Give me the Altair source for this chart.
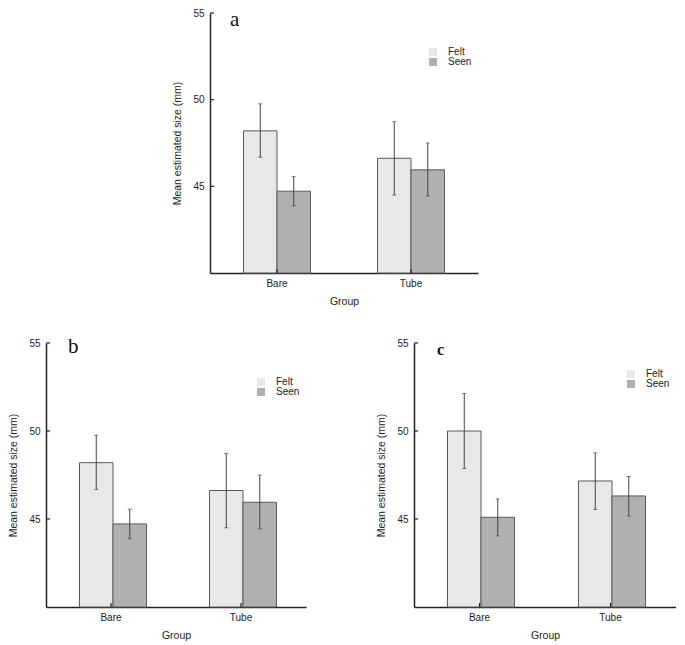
import altair as alt
import pandas as pd

groups = ["Bare", "Tube"]
conditions = ["Felt", "Seen"]

# order of values: Bare-Felt, Bare-Seen, Tube-Felt, Tube-Seen
mean_a = [48.2, 44.72, 46.62, 45.95]
low_a = [46.68, 43.88, 44.5, 44.44]
high_a = [49.76, 45.56, 48.73, 47.5]

mean_b = [48.2, 44.72, 46.62, 45.95]
low_b = [46.68, 43.88, 44.5, 44.44]
high_b = [49.76, 45.56, 48.73, 47.5]

mean_c = [50.0, 45.1, 47.16, 46.31]
low_c = [47.87, 44.04, 45.54, 45.17]
high_c = [52.13, 46.14, 48.76, 47.42]

y_ticks = [45, 50, 55]
y_domain = [40, 55]
fill_colors = ["#e8e8e8", "#b0b0b0"]
y_title = "Mean estimated size (mm)"


def panel(label, means, lows, highs, w, h, legend_y, label_size, label_weight, label_x, label_y):
    df = pd.DataFrame({
        "Group": [g for g in groups for _ in conditions],
        "Condition": [c for _ in groups for c in conditions],
        "Mean": means, "Low": lows, "High": highs,
    })
    x = alt.X("Group:N", sort=groups, title="Group",
              scale=alt.Scale(paddingInner=0, paddingOuter=0))
    xo = alt.XOffset("Condition:N", sort=conditions,
                     scale=alt.Scale(paddingInner=0, paddingOuter=1))
    yscale = alt.Scale(domain=y_domain, nice=False, zero=False)
    base = alt.Chart(df)
    bars = base.mark_bar(stroke="#5a5a5a", strokeWidth=1).encode(
        x=x, xOffset=xo,
        y=alt.Y("Mean:Q", title=y_title, scale=yscale, axis=alt.Axis(values=y_ticks)),
        y2=alt.datum(y_domain[0]),
        fill=alt.Fill("Condition:N", sort=conditions,
                      scale=alt.Scale(domain=conditions, range=fill_colors),
                      legend=alt.Legend(orient="none", legendX=w - 50, legendY=legend_y,
                                        title=None, symbolType="square", symbolSize=64,
                                        symbolStrokeWidth=0, labelFontSize=10,
                                        labelFont="Liberation Sans", labelColor="#222",
                                        rowPadding=0, labelOffset=10)),
    )
    err = base.mark_rule(color="#444", strokeWidth=1).encode(
        x=x, xOffset=xo,
        y=alt.Y("Low:Q", title=y_title, scale=yscale), y2="High:Q")
    cap_lo = base.mark_tick(color="#444", size=4, thickness=1).encode(
        x=x, xOffset=xo, y=alt.Y("Low:Q", title=y_title, scale=yscale))
    cap_hi = base.mark_tick(color="#444", size=4, thickness=1).encode(
        x=x, xOffset=xo, y=alt.Y("High:Q", title=y_title, scale=yscale))
    ytk = alt.Chart(pd.DataFrame({"v": y_ticks})).mark_rule(color="#222", strokeWidth=1.2).encode(
        y=alt.Y("v:Q", title=y_title, scale=yscale), x=alt.value(0), x2=alt.value(4))
    xtk = alt.Chart(pd.DataFrame({"Group": groups})).mark_rule(color="#222", strokeWidth=1.2).encode(
        x=alt.X("Group:N", sort=groups, title="Group"), xOffset=alt.value(w / 4),
        y=alt.value(h), y2=alt.value(h - 4))
    lab = alt.Chart(pd.DataFrame({"t": [label]})).mark_text(
        font="Liberation Serif", fontSize=label_size, fontWeight=label_weight,
        align="left", baseline="alphabetic", color="#111").encode(
        text="t:N", x=alt.value(label_x), y=alt.value(label_y))
    return alt.layer(bars, err, cap_lo, cap_hi, ytk, xtk, lab).properties(width=w, height=h)


spacer = alt.Chart(pd.DataFrame({"s": [0]})).mark_point(opacity=0).encode(
    x=alt.value(0), y=alt.value(0)).properties(width=126, height=10)

pa = panel("a", mean_a, low_a, high_a, 268, 260, 34, 21, "normal", 20, 13)
pb = panel("b", mean_b, low_b, high_b, 260, 264, 34, 21, "normal", 22, 10)
pc = panel("c", mean_c, low_c, high_c, 262, 264, 26, 16, "bold", 23, 12)

top = alt.hconcat(spacer, pa, spacing=0).resolve_scale(fill="independent").resolve_legend(fill="independent")
bottom = alt.hconcat(pb, pc, spacing=70).resolve_scale(fill="independent").resolve_legend(fill="independent")

chart = alt.vconcat(top, bottom, spacing=29).resolve_scale(
    fill="independent").resolve_legend(fill="independent").properties(
    padding={"left": 0, "top": 0, "right": 0, "bottom": 0}
).configure_view(stroke=None).configure_axis(
    grid=False, ticks=False, domainColor="#222", domainWidth=1.5,
    labelFont="Liberation Sans", titleFont="Liberation Sans",
    labelFontSize=10, titleFontSize=10.5, titleFontWeight="normal",
    labelColor="#222", titleColor="#222",
).configure_axisX(labelAngle=0, labelPadding=5, titlePadding=8).configure_axisY(
    labelPadding=6, titlePadding=10)

chart.save("out.html", embed_options={"renderer": "svg", "actions": False})
